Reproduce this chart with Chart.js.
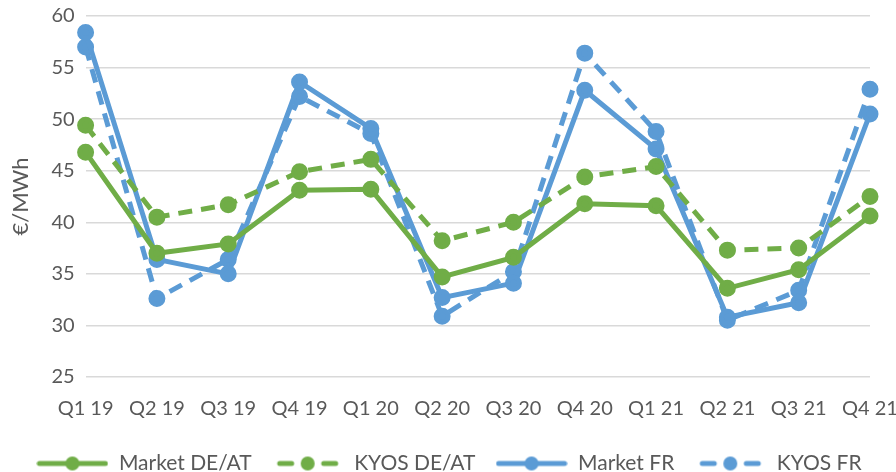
<!DOCTYPE html>
<html lang="en">
<head>
  <meta charset="UTF-8">
  <title>Market vs KYOS</title>
  <style>
    html, body { margin: 0; padding: 0; background: #fff; }
    #wrap { width: 896px; height: 472px; }
  </style>
</head>
<body>
<div id="wrap"><canvas id="chart"></canvas></div>

<script src="https://cdn.jsdelivr.net/npm/chart.js"></script>
<script>
  const quarters = ['Q1 19', 'Q2 19', 'Q3 19', 'Q4 19', 'Q1 20', 'Q2 20', 'Q3 20', 'Q4 20', 'Q1 21', 'Q2 21', 'Q3 21', 'Q4 21'];
  const marketDeAt = [46.8, 37.0, 37.9, 43.1, 43.2, 34.7, 36.6, 41.8, 41.6, 33.6, 35.4, 40.6];
  const kyosDeAt = [49.4, 40.5, 41.7, 44.9, 46.1, 38.2, 40.0, 44.4, 45.4, 37.3, 37.5, 42.5];
  const marketFr = [58.4, 36.4, 35.0, 53.6, 49.1, 32.7, 34.1, 52.8, 47.1, 30.8, 32.2, 50.5];
  const kyosFr = [57.0, 32.6, 36.4, 52.2, 48.6, 30.9, 35.2, 56.4, 48.8, 30.5, 33.4, 52.9];

  const green = '#70ad47';
  const blue = '#5b9bd5';

  // little line+marker sample for the legend, like the spreadsheet one
  function legendIcon(color, dashed) {
    const c = document.createElement('canvas');
    c.width = 72;
    c.height = 16;
    const g = c.getContext('2d');
    g.strokeStyle = color;
    g.fillStyle = color;
    g.lineWidth = 5;
    g.lineCap = 'round';
    g.beginPath();
    if (dashed) {
      g.moveTo(8, 8); g.lineTo(20, 8);
      g.moveTo(52, 8); g.lineTo(64, 8);
    } else {
      g.moveTo(3, 8); g.lineTo(69, 8);
    }
    g.stroke();
    g.beginPath();
    g.arc(36, 8, 7, 0, Math.PI * 2);
    g.fill();
    return c;
  }

  function series(label, data, color, dashed) {
    return {
      label: label,
      data: data,
      borderColor: color,
      backgroundColor: color,
      borderWidth: 5,
      borderDash: dashed ? [14, 9] : [],
      pointRadius: 6,
      pointHoverRadius: 6,
      pointBackgroundColor: color,
      pointBorderColor: color,
      tension: 0,
      legendIcon: legendIcon(color, dashed)
    };
  }

  Chart.defaults.font.family = 'Lato, "Open Sans", sans-serif';
  Chart.defaults.color = '#595959';

  new Chart(document.getElementById('chart'), {
    type: 'line',
    data: {
      labels: quarters,
      datasets: [
        series('Market DE/AT', marketDeAt, green, false),
        series('KYOS DE/AT', kyosDeAt, green, true),
        series('Market FR', marketFr, blue, false),
        series('KYOS FR', kyosFr, blue, true)
      ]
    },
    options: {
      responsive: true,
      maintainAspectRatio: false,
      animation: false,
      layout: { padding: { top: 16, right: 0, left: 2, bottom: -12 } },
      scales: {
        x: {
          offset: false,
          grid: { display: false },
          border: { display: false },
          ticks: { font: { size: 20 }, maxRotation: 0, autoSkip: false, padding: 12 },
          afterFit(scale) {
            scale.paddingRight = 26;
          }
        },
        y: {
          min: 25,
          max: 60,
          ticks: { stepSize: 5, font: { size: 20 }, padding: 11 },
          grid: { color: '#d9d9d9', lineWidth: 1.5, drawTicks: false },
          border: { display: false },
          title: { display: true, text: '€/MWh', font: { size: 22 }, padding: 6 },
          afterFit(scale) {
            scale.paddingTop = 0;
          }
        }
      },
      plugins: {
        legend: {
          position: 'bottom',
          labels: {
            font: { size: 21 },
            usePointStyle: true,
            pointStyleWidth: 72,
            boxHeight: 16,
            padding: 20,
            generateLabels(chart) {
              const items = Chart.defaults.plugins.legend.labels.generateLabels(chart);
              items.forEach(it => {
                it.pointStyle = chart.data.datasets[it.datasetIndex].legendIcon;
              });
              return items;
            }
          }
        },
        tooltip: { enabled: false }
      }
    }
  });
</script>
</body>
</html>
